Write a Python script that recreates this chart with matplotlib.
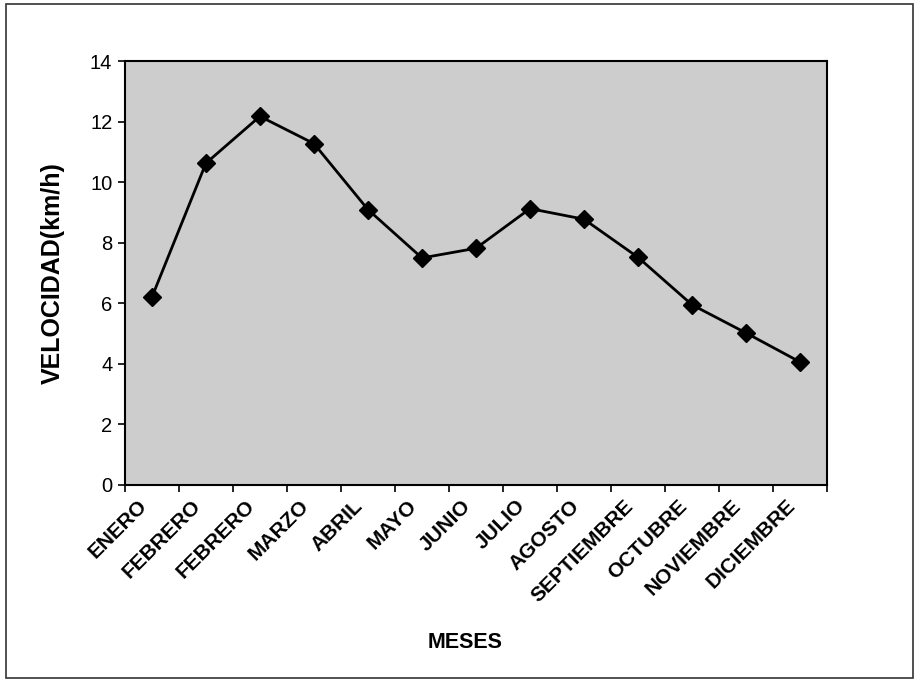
import matplotlib.pyplot as plt
import matplotlib.transforms as mtransforms
from matplotlib.patches import Rectangle

# monthly wind speed
meses = ['ENERO', 'FEBRERO', 'FEBRERO', 'MARZO', 'ABRIL', 'MAYO', 'JUNIO',
         'JULIO', 'AGOSTO', 'SEPTIEMBRE', 'OCTUBRE', 'NOVIEMBRE', 'DICIEMBRE']
velocidad = [6.2, 10.63, 12.18, 11.28, 9.1, 7.5, 7.82, 9.13, 8.78, 7.52, 5.95, 5.02, 4.06]
yticks = [0, 2, 4, 6, 8, 10, 12, 14]

plt.rcParams['font.family'] = ['Liberation Sans', 'DejaVu Sans']

fig = plt.figure(figsize=(9.18, 6.81), dpi=100)
ax = fig.add_axes([0.136, 0.288, 0.765, 0.622])

# outer frame of the chart
fig.patches.append(Rectangle((0.006, 0.004), 0.989, 0.99, transform=fig.transFigure,
                             fill=False, edgecolor='#333333', linewidth=1.2))

ax.set_facecolor('#cdcdcd')
x = [i + 0.5 for i in range(len(meses))]
ax.plot(x, velocidad, color='black', linewidth=2, marker='D', markersize=9.5)

ax.set_xlim(0, len(meses))
ax.set_ylim(0, 14)
ax.set_yticks(yticks)
ax.set_yticklabels([str(v) for v in yticks], fontsize=14.5)

ax.set_xticks(range(len(meses) + 1))
ax.set_xticklabels([])
ax.set_xticks(x, minor=True)
ax.set_xticklabels(meses, minor=True, rotation=45, ha='right', va='center',
                   rotation_mode='anchor', fontsize=15, fontweight='bold')
ax.tick_params(axis='x', which='minor', length=0, pad=13)
ax.tick_params(axis='x', which='major', length=5, width=1.2, direction='out')
ax.tick_params(axis='y', length=5, width=1.2, direction='out', pad=4)

shift = mtransforms.ScaledTranslation(-8 / 100, 0, fig.dpi_scale_trans)
for lab in ax.get_xticklabels(minor=True):
    lab.set_transform(lab.get_transform() + shift)

for s in ax.spines.values():
    s.set_linewidth(1.5)

ax.set_ylabel('VELOCIDAD(km/h)', fontsize=18, fontweight='bold')
ax.yaxis.set_label_coords(-0.085, 0.5)
fig.text(0.507, 0.057, 'MESES', ha='center', va='center', fontsize=15.5, fontweight='bold')

fig.savefig('out.png', dpi=100)
